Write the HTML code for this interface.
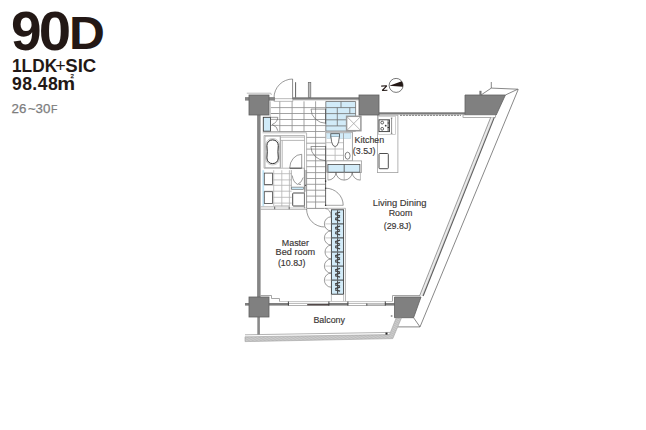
<!DOCTYPE html>
<html><head><meta charset="utf-8">
<style>
html,body{margin:0;padding:0;background:#fff;width:646px;height:430px;overflow:hidden}
svg{position:absolute;left:0;top:0}
text{font-family:"Liberation Sans",sans-serif}
</style></head><body>
<svg width="646" height="430" viewBox="0 0 646 430">
<!-- header text -->
<g fill="#231815" font-weight="bold">
<text x="10.9" y="49.6" font-size="55">9</text>
<text x="39" y="49.6" font-size="55" transform="translate(40.9 0) scale(1.06 1) translate(-40.9 0)">0</text>
<text x="69.2" y="49.3" font-size="46" transform="translate(73 0) scale(1.08 1) translate(-73 0)">D</text>
<text x="12" y="71.7" font-size="17.9" transform="translate(12.9 0) scale(0.965 1) translate(-12.9 0)">1LDK</text>
<text x="55.2" y="71.7" font-size="17.9" font-weight="normal">+</text>
<text x="65.3" y="71.7" font-size="17.9" transform="translate(66.3 0) scale(1.04 1) translate(-66.3 0)">SIC</text>
<text x="11.9" y="89.6" font-size="17.6" letter-spacing="0.45">98.48</text>
<text x="57.45" y="89.6" font-size="17.6" transform="translate(58.6 0) scale(1.14 1) translate(-58.6 0)">m</text>
<text x="70.5" y="78.3" font-size="6.2" font-weight="normal" stroke="#231815" stroke-width="0.25">2</text>
</g>
<g fill="#7d7d7d" stroke="#7d7d7d" stroke-width="0.25" font-size="13.3">
<text x="11.4" y="113.2" letter-spacing="0.3">26</text>
<text x="27.9" y="113.2">~</text>
<text x="35.4" y="113.2" letter-spacing="0.3">30</text>
<text x="51" y="113.2" font-size="10.4">F</text>
</g>

<!-- ===== floor plan ===== -->
<g id="plan">

<!-- upper entrance tiles -->
<g stroke="#8c8c8c" stroke-width="0.8" fill="none">
<path d="M279.8 101.3V131.5M292.1 101.3V131.5M304 101.3V131.5M315.6 101.3V208.4M270.8 107.6H325.6M270.8 113.5H325.6M270.8 119.5H325.6M270.8 125.6H325.6M270.8 131.5H325.6"/>
<path d="M306.2 137.4H325.6M306.2 143.2H325.6M306.2 149.1H325.6M306.2 155H325.6M306.2 160.8H325.6M306.2 166.7H325.6M306.2 172.6H325.6M306.2 178.5H325.6M306.2 184.3H325.6M306.2 190.2H325.6M306.2 196.1H325.6M306.2 202H325.6"/>
</g>

<path d="M270.3 101.3V116.8" stroke="#b0b0b0" stroke-width="0.8"/>
<path d="M325.6 109.1V123.4" stroke="#3a3a3a" stroke-width="0.8"/>
<!-- washroom tiles (light) -->
<g stroke="#b4b4b4" stroke-width="0.8" fill="none">
<path d="M264 173.7H291.7M264 179.9H291.7M264 185.3H291.7M264 191.2H291.7M264 197.3H291.7M264 203.1H291.7M273.7 170.2V206.3M281.8 170.2V206.3M289.4 170.2V206.3"/>
</g>

<!-- blue tiles -->
<rect x="325.8" y="101.5" width="29.8" height="29.6" fill="#d2ebf8"/>
<g stroke="#6f6f6f" stroke-width="0.8" fill="none">
<path d="M325.8 101.5H355.6V131.1H325.8ZM325.8 107.6H355.6M325.8 113.6H355.6M325.8 119.8H355.6M325.8 125.9H355.6M341 101.5V107.6M337.3 107.6V125.9M349.8 107.6V113.6"/>
</g>

<!-- entrance cabinet -->
<rect x="263.3" y="117.3" width="7.2" height="13.9" fill="#d0ebf9" stroke="#3a3a3a" stroke-width="0.9"/>
<rect x="270.9" y="114.2" width="7.5" height="17" fill="#fff"/>
<path d="M270.9 113.5H278.4M270.9 119.4H278.4M270.9 125.4H278.4" stroke="#8c8c8c" stroke-width="0.8"/>
<path d="M270.5 117.3H277.8Q277.8 122 272.2 124.5Q277.8 127 277.8 130.8" fill="none" stroke="#555" stroke-width="0.6"/>
<!-- pipe shaft -->
<rect x="346.6" y="116.3" width="14.3" height="14.4" fill="#fff" stroke="#9a9a9a" stroke-width="1.5"/>
<path d="M347.3 117L360.2 130M360.2 117L347.3 130" stroke="#9a9a9a" stroke-width="0.7"/>

<!-- toilet room -->
<rect x="325.8" y="132.2" width="26.6" height="28.8" fill="none" stroke="#9a9a9a" stroke-width="0.9"/>
<g stroke="#b4b4b4" stroke-width="0.8"><path d="M326 142.7H343.4M326 149H343.4M326 155.3H343.4M335.1 146.6V160.9"/></g>
<rect x="326.8" y="133.2" width="24.1" height="5.3" fill="#d2ebf8" stroke="#b0c8d4" stroke-width="0.5"/>
<rect x="330.8" y="133.7" width="8.6" height="3.4" fill="#c9e8f8" stroke="#4a4a4a" stroke-width="0.8"/>
<path d="M331 137.1L331.6 141.8Q332.6 146.6 335.1 146.6Q337.6 146.6 338.6 141.8L339.3 137.1" fill="#fff" stroke="#4a4a4a" stroke-width="0.8"/>
<path d="M343.5 133.2V160.4" stroke="#9a9a9a" stroke-width="0.8"/>
<ellipse cx="347.6" cy="155.7" rx="2.5" ry="3.5" fill="#fff" stroke="#4a4a4a" stroke-width="0.7"/>

<!-- kitchen cabinets (lower) -->
<rect x="326.7" y="160.9" width="34.9" height="11.6" fill="#fff" stroke="#a0a0a0" stroke-width="0.8"/>
<rect x="327.9" y="164.4" width="32" height="7.8" fill="#d2ebf8" stroke="#4a4a4a" stroke-width="0.8"/>
<path d="M344.2 164.4V172.2" stroke="#4a4a4a" stroke-width="0.8"/>
<path d="M327.9 172.2V180.1M344.2 172.2V180.1M360.4 172.2V180.1" stroke="#a0a0a0" stroke-width="0.7"/>
<path d="M327.9 180.1A8 8 0 0 0 336 172.2A8 8 0 0 0 344.2 180.1A8 8 0 0 0 352.2 172.2A8 8 0 0 0 360.4 180.1" fill="none" stroke="#555" stroke-width="0.6"/>

<!-- bathroom -->
<path d="M262.6 132.8H306.6V170M264 135.5H304.5V168.2H264Z" fill="none" stroke="#a8a8a8" stroke-width="0.8"/>
<rect x="265" y="136.2" width="15.3" height="31.6" fill="none" stroke="#a5a5a5" stroke-width="0.8"/>
<path d="M280.3 136.2V167.8M282.2 140.4V167.8M280.8 137.1H304.5M280.8 140.4H304.5" stroke="#a5a5a5" stroke-width="0.8"/>
<path d="M272.60 138.60C276.74 138.60 279.50 141.36 279.50 145.50Q279.00 151.75 279.50 158.00C279.50 162.14 276.74 164.90 272.60 164.90C268.46 164.90 265.70 162.14 265.70 158.00Q266.20 151.75 265.70 145.50C265.70 141.36 268.46 138.60 272.60 138.60Z" fill="none" stroke="#a0a0a0" stroke-width="0.6"/>
<path d="M272.60 139.90C276.02 139.90 278.30 142.18 278.30 145.60Q277.60 151.75 278.30 157.90C278.30 161.32 276.02 163.60 272.60 163.60C269.18 163.60 266.90 161.32 266.90 157.90Q267.60 151.75 266.90 145.60C266.90 142.18 269.18 139.90 272.60 139.90Z" fill="none" stroke="#2a2a2a" stroke-width="1"/>
<path d="M289.7 168.2A12 14 0 0 1 301.7 154.3V168.2" fill="none" stroke="#555" stroke-width="0.6"/>
<path d="M289.7 168.2H301.7" stroke="#444" stroke-width="1"/>

<!-- washroom -->
<rect x="262.4" y="170.2" width="1.8" height="36.1" fill="#bfe3f5"/>
<rect x="264.3" y="173.1" width="8.2" height="11.4" fill="#fff" stroke="#4a4a4a" stroke-width="0.8"/>
<rect x="264.3" y="191.7" width="8.2" height="11.7" fill="#fff" stroke="#4a4a4a" stroke-width="0.8"/>
<path d="M291.3 170.1V189.7M304.6 170.1V189.7" stroke="#9a9a9a" stroke-width="0.8"/>
<path d="M292.2 175.5Q293.2 182.3 297.6 184.4Q302 182.3 303.2 177.5M298.6 184.4H301" fill="none" stroke="#555" stroke-width="0.6"/>
<rect x="291.7" y="187.1" width="11.6" height="2.3" fill="#c9e8f7" stroke="#666" stroke-width="0.6"/>
<rect x="292.7" y="193" width="11.8" height="13" rx="0.8" fill="#fff" stroke="#4a4a4a" stroke-width="1"/>
<path d="M305.1 170V191.7" stroke="#9a9a9a" stroke-width="0.9"/>
<path d="M305.1 185.3h1.2" stroke="#333" stroke-width="1"/>

<!-- washroom bottom wall -->
<path d="M260.8 206.9H274.6M274.6 206H289.5M289.5 207.8H306.2M260.8 209.5H306.6" stroke="#a8a8a8" stroke-width="1"/>
<rect x="260.8" y="207" width="45.6" height="2.4" fill="#e4e4e4"/>
<path d="M274.7 206.6V209.2M289.2 206.6V209.2" stroke="#444" stroke-width="0.8"/>

<!-- hallway boundaries -->
<path d="M304.4 168.2V208.4M306.6 170V208.4H324.7" fill="none" stroke="#8a8a8a" stroke-width="0.9"/>
<path d="M325.6 145.9V205.6" stroke="#555" stroke-width="0.9"/>
<path d="M325.6 180.6V181.8M325.6 187.7V188.8M325.6 204.8V206" stroke="#222" stroke-width="1.3"/>
<path d="M325.6 109.1V123.3" stroke="#555" stroke-width="0.6"/>

<!-- doors -->
<g fill="none" stroke="#555" stroke-width="0.6">
<path d="M311 109.1H326.2M311 109.1A15.2 14.2 0 0 0 326.2 123.3"/>
<path d="M310.9 146.5H325.6M310.9 146.5A14.7 14.1 0 0 0 325.6 160.6"/>
<path d="M325.6 188.2A17.6 17.1 0 0 1 343.2 205.3"/>
<path d="M306.6 209A18 18 0 0 0 324.7 227"/>
<path d="M274 97.7A18.8 18.8 0 0 1 292.6 79"/>
</g>
<path d="M325.6 205.3H343.2" stroke="#6a6a6a" stroke-width="0.6"/>
<rect x="274" y="98.8" width="18.9" height="2.4" fill="#fff" stroke="#8a8a8a" stroke-width="0.6"/>
<path d="M292.6 79V99" stroke="#6a6a6a" stroke-width="0.8"/>

<!-- closet -->
<path d="M345.5 208.3V302M324.6 208.3H345.5" fill="none" stroke="#a5a5a5" stroke-width="0.8"/>
<rect x="331.4" y="209.8" width="12.2" height="84.4" fill="#d2ebf8" stroke="#3a3a3a" stroke-width="0.9"/>
<path d="M331.4 223.9H343.6M331.4 237.9H343.6M331.4 252.0H343.6M331.4 266.1H343.6M331.4 280.1H343.6" stroke="#3a3a3a" stroke-width="1"/>
<path d="M331.4 294.2V301.5M343.6 294.2V301.5" stroke="#a5a5a5" stroke-width="0.7"/>
<path d="M337.6 210.3V223.4M337.6 224.4V237.5M337.6 238.4V251.5M337.6 252.5V265.6M337.6 266.6V279.7M337.6 280.6V293.8" stroke="#333" stroke-width="0.9"/>
<path d="M335.1 213.5L340.1 212.1M335.1 214.5L340.1 215.9M335.1 218.3L340.1 216.9M335.1 219.4L340.1 220.8M335.1 227.6L340.1 226.2M335.1 228.6L340.1 230.0M335.1 232.4L340.1 231.0M335.1 233.5L340.1 234.9M335.1 241.6L340.1 240.2M335.1 242.6L340.1 244.0M335.1 246.4L340.1 245.0M335.1 247.5L340.1 248.9M335.1 255.7L340.1 254.3M335.1 256.7L340.1 258.1M335.1 260.5L340.1 259.1M335.1 261.6L340.1 263.0M335.1 269.8L340.1 268.4M335.1 270.8L340.1 272.2M335.1 274.6L340.1 273.2M335.1 275.7L340.1 277.1M335.1 283.8L340.1 282.4M335.1 284.8L340.1 286.2M335.1 288.6L340.1 287.2M335.1 289.8L340.1 291.1" fill="none" stroke="#444" stroke-width="1.25"/>
<path d="M325.2 223.9H331.4M325.2 237.9H331.4M325.2 252.0H331.4M325.2 266.1H331.4M325.2 280.1H331.4" stroke="#c4c4c4" stroke-width="0.9"/>
<path d="M325.2 208.5A6 8 0 0 1 331.2 216.8M331.2 216.8A6.8 7.03 0 0 0 331.2 230.9M331.2 230.9A6.8 7.03 0 0 0 331.2 245.0M331.2 245.0A6.8 7.03 0 0 0 331.2 259.0M331.2 259.0A6.8 7.03 0 0 0 331.2 273.1M331.2 273.1A6.8 7.03 0 0 0 331.2 287.2" fill="none" stroke="#5a5a5a" stroke-width="0.6"/>

<!-- kitchen counter -->
<rect x="377.4" y="115.2" width="20.5" height="57.4" fill="#fff" stroke="#a0a0a0" stroke-width="0.8"/>
<rect x="378.4" y="116.3" width="17.1" height="18.1" fill="none" stroke="#bcbcbc" stroke-width="0.7"/>
<rect x="379" y="119.8" width="10.5" height="11.8" fill="#fff" stroke="#3a3a3a" stroke-width="0.9"/>
<circle cx="382.2" cy="122.6" r="1.4" fill="#fff" stroke="#3a3a3a" stroke-width="0.8"/>
<circle cx="382.2" cy="128.8" r="1.4" fill="#fff" stroke="#3a3a3a" stroke-width="0.8"/>
<circle cx="385.7" cy="125.7" r="0.9" fill="#3a3a3a"/>
<path d="M388.2 120.6V130.8" stroke="#333" stroke-width="1.6" stroke-dasharray="0.8 0.5"/>
<path d="M391.6 118V133.4M390.8 118h1.6M390.8 133.4h1.6" stroke="#444" stroke-width="0.6"/>
<rect x="379" y="153.5" width="9.3" height="15.2" rx="0.8" fill="#fff" stroke="#3a3a3a" stroke-width="0.9"/>

<!-- left exterior wall -->
<rect x="257.1" y="115" width="3.5" height="182" fill="#858585"/>
<rect x="257.3" y="317" width="2.6" height="18" fill="#8a8a8a"/>
<!-- top walls -->
<rect x="245" y="97.1" width="30" height="3.5" fill="#858585"/>
<rect x="292.8" y="97.3" width="66.5" height="2.4" fill="#7a7a7a"/>
<path d="M292.8 100.4H359" stroke="#c8c8c8" stroke-width="0.6"/>
<rect x="295" y="82.2" width="1.1" height="15.5" fill="#6f6f6f"/>
<rect x="308.3" y="82.4" width="2.5" height="15" fill="#bdbdbd" stroke="#6a6a6a" stroke-width="0.7"/>
<path d="M246.8 93.2H270.8L271.4 95" fill="none" stroke="#8f8f8f" stroke-width="0.6"/>
<!-- right of C2 wall (sash) -->
<rect x="379" y="112.3" width="86.5" height="2.2" fill="#7a7a7a"/>
<path d="M400 115.3H461" stroke="#6a6a6a" stroke-width="0.9" stroke-dasharray="2.2 0.8"/>
<!-- bottom wall -->
<rect x="245" y="303" width="150" height="2.6" fill="#7e7e7e"/>
<path d="M260.4 295.5H271.5V298.5H279.5V301.5H392.5V295.5H421.3" fill="none" stroke="#8f8f8f" stroke-width="0.8"/>
<rect x="279.6" y="301.6" width="114" height="1.3" fill="#fff"/>
<rect x="288.6" y="303.2" width="40.2" height="2.2" fill="#fff" stroke="#8f8f8f" stroke-width="0.5"/>
<rect x="347.9" y="303.2" width="37.4" height="2.2" fill="#fff" stroke="#8f8f8f" stroke-width="0.5"/>
<path d="M307.2 304.7H328.9" stroke="#4a4040" stroke-width="1.3"/>
<path d="M366.8 304.7H385.3" stroke="#8a8a8a" stroke-width="0.6"/>
<path d="M288.4 301.5V305.6M328.9 301.5V305.6M347.9 301.5V305.6M385.3 301.5V305.6M366.8 303.5V305.6" stroke="#333" stroke-width="0.9"/>

<!-- columns -->
<g fill="#808080" stroke="#5f5f5f" stroke-width="0.8">
<rect x="249" y="95" width="20" height="20"/>
<rect x="359" y="95" width="20" height="20"/>
<path d="M465 95H505.4L496.2 115H465Z"/>
<rect x="249" y="297" width="20" height="20"/>
<path d="M394.5 297H421L413.6 317.7H394.5Z"/>
</g>

<!-- exterior top right -->
<g fill="none" stroke="#555" stroke-width="0.7">
<path d="M491.3 82V88.1L517.8 89.2M491.3 88.1L481 95M505.4 95L517.8 89.2"/>
<path d="M518.3 89.2L420 326.9H397.6M413.6 317.7L420 326.9"/>
</g>
<rect x="479.4" y="90.8" width="2.1" height="4.2" fill="#777"/>
<rect x="463" y="114.9" width="32.6" height="2.5" fill="#fff" stroke="#777" stroke-width="0.6"/>
<!-- inner diagonal double wall -->
<path d="M490.7 117.4L419.5 296H423.3L494.5 117.4Z" fill="#dedede"/>
<path d="M490.7 117.4L419.5 296" stroke="#8a8a8a" stroke-width="0.8"/>
<path d="M494.3 117.4L423.1 296" stroke="#5e5e5e" stroke-width="1.1"/>
<path d="M492.1 117.4L420.9 296" stroke="#f2f2f2" stroke-width="0.9"/>


<!-- balcony rail -->
<path d="M245 334.8L390.4 332.4" fill="none" stroke="#a0a0a0" stroke-width="0.8"/>
<defs><pattern id="hatch" patternUnits="userSpaceOnUse" width="2" height="2" patternTransform="rotate(30)"><rect width="2" height="2" fill="#cdcdcd"/><rect width="2" height="0.9" fill="#bababa"/></pattern></defs>
<path d="M245 336.8L389.5 334.6L390.4 332.4L396.1 318.1L401.4 318.1L392.8 338.6L245 341.6Z" fill="url(#hatch)" stroke="#a0a0a0" stroke-width="0.6"/>
<rect x="385.5" y="332.6" width="2" height="2" fill="#222"/>
<circle cx="391.6" cy="315.9" r="1" fill="#999"/>
</g>

<!-- compass -->
<circle cx="396.1" cy="85.4" r="7" fill="#fff" stroke="#555" stroke-width="0.8"/>
<path d="M389.3 85.8L401.7 81.2A7.1 7.1 0 0 1 402.9 86.8Z" fill="#231815"/>
<path d="M381.2 86.1L386.8 85.8L382.2 90.5L387.4 90.2" fill="none" stroke="#231815" stroke-width="1.1" stroke-linejoin="bevel"/>

<!-- room labels -->
<g fill="#3a3634" stroke="#3a3634" stroke-width="0.15" font-size="8.9">
<text x="354.6" y="143.3">Kitchen</text>
<text x="352.8" y="154.1">(3.5J)</text>
<text x="372.8" y="205.7" textLength="53.6" lengthAdjust="spacingAndGlyphs">Living Dining</text>
<text x="400.5" y="216" text-anchor="middle">Room</text>
<text x="397.5" y="228.5" text-anchor="middle">(29.8J)</text>
<text x="295.4" y="245.7" text-anchor="middle">Master</text>
<text x="275.6" y="254.6" textLength="39.6" lengthAdjust="spacingAndGlyphs">Bed room</text>
<text x="291.7" y="266.1" text-anchor="middle">(10.8J)</text>
<text x="329.2" y="322.6" text-anchor="middle">Balcony</text>
</g>
</svg>
</body></html>
